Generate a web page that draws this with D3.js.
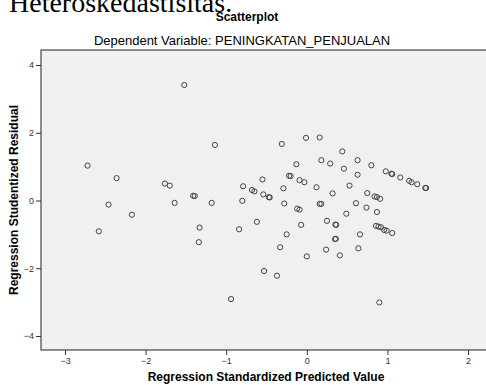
<!DOCTYPE html>
<html>
<head>
<meta charset="utf-8">
<script src="https://cdnjs.cloudflare.com/ajax/libs/d3/7.8.5/d3.min.js"></script>
<style>
	body { margin: 0; background: #fff; overflow: hidden; }
	svg { display: block; }
	.tick text { font-family: Arial, "Liberation Sans", sans-serif; font-size: 9px; fill: #333; }
	.tick line { stroke: #333; }
	.axis-title { font-family: Arial, "Liberation Sans", sans-serif; font-size: 12px; font-weight: bold; fill: #000; }
	.point { fill: none; stroke: #444; stroke-width: 1; }
</style>
</head>
<body>
<svg width="486" height="385"></svg>
<script>
// regression standardized predicted value
var predicted = [
	-1.52, -2.72, -2.36, -1.76, -1.70, -1.64, -2.46, -2.17, -2.58, -1.14,
	-0.31, -0.01, 0.16, -0.13, -0.55, -0.22, -0.20, -0.09, -0.03, -0.79,
	0.12, -1.41, -1.39, -0.68, -0.65, -0.29, -0.54, -0.47, -0.46, -1.18,
	-0.80, -0.28, -0.12, -0.09, 0.16, 0.18, -1.33, -1.34, -0.84, -0.62,
	-0.25, -0.33, -0.53, -0.37, -0.94, 0.44, 0.18, 0.29, 0.63, 0.46,
	0.80, 0.98, 1.05, 1.06, 1.16, 1.27, 1.30, 1.37, 1.47, 1.48,
	0.63, 0.53, 0.32, 0.75, 0.84, 0.87, 0.91, 0.61, 0.49, 0.74,
	0.87, -0.07, 0.25, 0.355, 0.365, 0.35, 0.36, 0.66, 0.86, 0.89,
	0.92, 0.96, 0.99, 1.06, 0.00, 0.24, 0.41, 0.64, 0.90
];

// regression studentized residual
var residual = [
	3.41, 1.03, 0.66, 0.50, 0.44, -0.07, -0.12, -0.42, -0.91, 1.64,
	1.67, 1.85, 1.86, 1.07, 0.62, 0.73, 0.72, 0.60, 0.54, 0.42,
	0.39, 0.14, 0.13, 0.31, 0.27, 0.36, 0.18, 0.10, 0.09, -0.07,
	-0.01, -0.09, -0.24, -0.27, -0.10, -0.10, -0.80, -1.23, -0.85, -0.63,
	-1.00, -1.38, -2.08, -2.22, -2.91, 1.45, 1.19, 1.09, 1.19, 0.94,
	1.04, 0.86, 0.79, 0.78, 0.68, 0.58, 0.54, 0.48, 0.37, 0.37,
	0.76, 0.44, 0.21, 0.22, 0.12, 0.10, 0.05, -0.08, -0.39, -0.21,
	-0.34, -0.72, -0.60, -0.71, -0.72, -1.14, -1.13, -1.00, -0.75, -0.77,
	-0.79, -0.87, -0.89, -0.96, -1.65, -1.45, -1.62, -1.41, -3.01
];

var xTicks = [-3, -2, -1, 0, 1, 2];
var yTicks = [-4, -2, 0, 2, 4];

var pageTitle = "Heteroskedastisitas.";
var chartTitle = "Scatterplot";
var chartSubtitle = "Dependent Variable: PENINGKATAN_PENJUALAN";
var xTitle = "Regression Standardized Predicted Value";
var yTitle = "Regression Studentized Residual";

var svg = d3.select("svg");

var plot = { left: 41, top: 50, right: 500, bottom: 350 };

var x = d3.scaleLinear().domain([-3, 2]).range([65, 468]);
var y = d3.scaleLinear().domain([-4, 4]).range([336, 65]);

// document heading, cut off by the top of the picture
svg.append("text")
	.attr("x", 9)
	.attr("y", 12)
	.style("font-family", "'Times New Roman', 'Liberation Serif', serif")
	.style("font-size", "28px")
	.text(pageTitle);

svg.append("text")
	.attr("x", 247)
	.attr("y", 21)
	.attr("text-anchor", "middle")
	.attr("class", "axis-title")
	.text(chartTitle);

svg.append("text")
	.attr("x", 242)
	.attr("y", 45)
	.attr("text-anchor", "middle")
	.style("font-family", "Arial, 'Liberation Sans', sans-serif")
	.style("font-size", "13px")
	.text(chartSubtitle);

// plot background
svg.append("rect")
	.attr("x", plot.left)
	.attr("y", plot.top)
	.attr("width", plot.right - plot.left)
	.attr("height", plot.bottom - plot.top)
	.style("fill", "#f0f0f0")
	.style("stroke", "#444")
	.style("stroke-width", 1.2);

var xAxis = svg.append("g")
	.attr("transform", "translate(0," + plot.bottom + ")")
	.call(d3.axisBottom(x).tickValues(xTicks).tickSize(5).tickPadding(3).tickFormat(d3.format("d")));
xAxis.select(".domain").remove();

var yAxis = svg.append("g")
	.attr("transform", "translate(" + plot.left + ",0)")
	.call(d3.axisLeft(y).tickValues(yTicks).tickSize(5).tickPadding(2).tickFormat(d3.format("d")));
yAxis.select(".domain").remove();

svg.selectAll(".point")
	.data(predicted)
	.enter().append("circle")
	.attr("class", "point")
	.attr("cx", function(d) { return x(d); })
	.attr("cy", function(d, i) { return y(residual[i]); })
	.attr("r", 2.6);

svg.append("text")
	.attr("class", "axis-title")
	.attr("x", 266)
	.attr("y", 381)
	.attr("text-anchor", "middle")
	.text(xTitle);

svg.append("text")
	.attr("class", "axis-title")
	.attr("transform", "translate(18," + ((plot.top + plot.bottom) / 2) + ") rotate(-90)")
	.attr("text-anchor", "middle")
	.text(yTitle);
</script>
</body>
</html>
